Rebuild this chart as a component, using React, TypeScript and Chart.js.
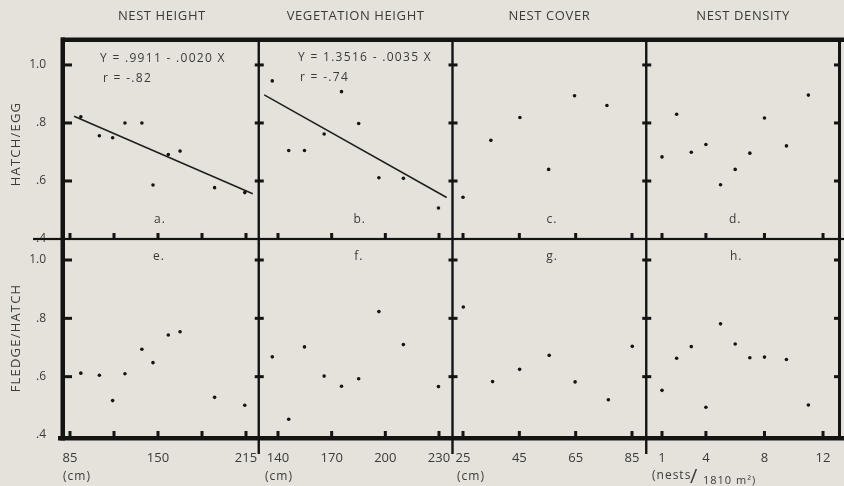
import React, { useEffect, useRef } from 'react';
import { Chart, registerables } from 'chart.js';

Chart.register(...registerables);

// ---- data ----
const nestHeight = [93, 106.7, 116.5, 125.6, 138.1, 146.3, 157.6, 166.3, 191.8, 214.1];
const hatchEggA = [0.821, 0.756, 0.749, 0.8, 0.8, 0.586, 0.691, 0.703, 0.577, 0.56];
const fledgeHatchE = [0.612, 0.605, 0.518, 0.61, 0.694, 0.648, 0.743, 0.754, 0.529, 0.502];

const vegHeight = [136.8, 146.0, 154.8, 165.8, 175.5, 185.1, 196.4, 210.1, 229.7];
const hatchEggB = [0.945, 0.705, 0.705, 0.762, 0.908, 0.798, 0.611, 0.609, 0.507];
const fledgeHatchF = [0.668, 0.454, 0.702, 0.602, 0.567, 0.593, 0.823, 0.71, 0.566];

const nestCoverC = [25.0, 34.9, 45.2, 55.4, 64.6, 76.1];
const hatchEggC = [0.544, 0.74, 0.819, 0.64, 0.894, 0.86];
const nestCoverG = [25.1, 35.5, 45.1, 55.6, 64.8, 76.6, 85.1];
const fledgeHatchG = [0.839, 0.583, 0.625, 0.673, 0.582, 0.521, 0.704];

const nestDensity = [1, 2, 3, 4, 5, 6, 7, 8, 9.5, 11];
const hatchEggD = [0.683, 0.83, 0.699, 0.726, 0.587, 0.64, 0.696, 0.817, 0.721, 0.896];
const fledgeHatchH = [0.553, 0.663, 0.703, 0.495, 0.781, 0.712, 0.665, 0.667, 0.659, 0.503];

// regression line end points (as drawn)
const fitAX = [88, 220];
const fitAY = [0.823, 0.556];
const fitBX = [132.3, 234.3];
const fitBY = [0.897, 0.543];

// ---- ticks / labels ----
const yTickValues = [0.4, 0.6, 0.8, 1.0];
const yTickLabels = ['.4', '.6', '.8', '1.0'];
const xaLabels = [85, 150, 215];
const xaMarks = [85, 117.5, 150, 182.5, 215];
const xbLabels = [140, 170, 200, 230];
const xcLabels = [25, 45, 65, 85];
const xdLabels = [1, 4, 8, 12];

const columnTitles = ['NEST HEIGHT', 'VEGETATION HEIGHT', 'NEST COVER', 'NEST DENSITY'];
const rowTitles = ['HATCH/EGG', 'FLEDGE/HATCH'];
const panelLetters = ['a.', 'b.', 'c.', 'd.', 'e.', 'f.', 'g.', 'h.'];
const eqA = ['Y = .9911 - .0020 X', 'r = -.82'];
const eqB = ['Y = 1.3516 - .0035 X', 'r = -.74'];
const unitCm = '(cm)';

const BG = '#e4e2da';
const INK = '#141414';
const TEXT = '#3a3a3a';
const FONT = "'Open Sans', 'DejaVu Sans', sans-serif";

const pts = (xs: number[], ys: number[]) => xs.map((x, i) => ({ x, y: ys[i] }));

function xScale(min: number, max: number, labels: number[]) {
  return {
    type: 'linear',
    position: 'bottom',
    stack: 'cols',
    stackWeight: 1,
    min,
    max,
    grid: { display: false },
    border: { display: false },
    afterBuildTicks: (s: any) => {
      s.ticks = labels.map((v) => ({ value: v }));
    },
    afterFit: (s: any) => {
      s.height = 48;
      s.paddingLeft = 0;
      s.paddingRight = 0;
    },
    ticks: {
      autoSkip: false,
      maxRotation: 0,
      minRotation: 0,
      padding: 4,
      color: TEXT,
      font: { family: FONT, size: 13 },
      callback: (v: any) => String(v),
    },
  };
}

function yScale(min: number, max: number, weight: number) {
  return {
    type: 'linear',
    position: 'left',
    stack: 'rows',
    stackWeight: 1,
    weight,
    min,
    max,
    grid: { display: false },
    border: { display: false },
    afterBuildTicks: (s: any) => {
      s.ticks = yTickValues.map((v) => ({ value: v }));
    },
    afterFit: (s: any) => {
      s.width = 65;
      s.paddingTop = 0;
      s.paddingBottom = 0;
    },
    ticks: {
      padding: 11,
      color: TEXT,
      font: { family: FONT, size: 12 },
      callback: (v: any) => {
        const i = yTickValues.findIndex((t) => Math.abs(t - v) < 1e-6);
        return i >= 0 ? yTickLabels[i] : '';
      },
    },
  };
}

const framePlugin = {
  id: 'frame',
  beforeDraw(chart: any) {
    const { ctx, width, height } = chart;
    ctx.save();
    ctx.fillStyle = BG;
    ctx.fillRect(0, 0, width, height);
    ctx.restore();
  },
  afterDraw(chart: any) {
    const ctx = chart.ctx;
    const ca = chart.chartArea;
    const W = chart.width;
    const cols = ['xa', 'xb', 'xc', 'xd'].map((id) => chart.scales[id]);
    const rows = [chart.scales.yTop, chart.scales.yBot];
    const mid = rows[0].bottom;
    const marks = [xaMarks, xbLabels, xcLabels, xdLabels];

    ctx.save();
    ctx.fillStyle = INK;
    // outer frame
    ctx.fillRect(ca.left - 4, ca.top - 2.5, W - ca.left + 4, 4.5);
    ctx.fillRect(ca.left - 4.5, ca.top - 2.5, 4.5, ca.bottom - ca.top + 5);
    ctx.fillRect(ca.left - 7, ca.bottom - 2, W - ca.left + 7, 4.5);
    ctx.fillRect(ca.right - 2, ca.top - 2, 3, ca.bottom - ca.top + 4);
    // middle horizontal divider
    ctx.fillRect(33, mid - 1.1, W - 33, 2.2);
    // vertical dividers
    for (let i = 1; i < 4; i++) {
      const x = cols[i].left;
      ctx.fillRect(x - 1.2, ca.top - 2, 2.4, ca.bottom - ca.top + 18);
    }
    // y tick marks
    rows.forEach((ys) => {
      yTickValues.forEach((v) => {
        if (v < 0.5) return;
        const y = ys.getPixelForValue(v);
        ctx.fillRect(ca.left, y - 1.5, 7, 3);
        for (let i = 1; i < 4; i++) ctx.fillRect(cols[i].left - 4, y - 1.5, 9, 3);
        ctx.fillRect(ca.right - 6, y - 1.5, 5, 3);
      });
    });
    // x tick marks
    cols.forEach((xs, i) => {
      marks[i].forEach((v) => {
        const x = xs.getPixelForValue(v);
        [mid - 1, ca.bottom - 2].forEach((by) => ctx.fillRect(x - 1.5, by - 5, 3, 5));
      });
    });

    // texts
    ctx.fillStyle = TEXT;
    ctx.textBaseline = 'middle';
    ctx.textAlign = 'center';
    ctx.font = `13px ${FONT}`;
    ctx.letterSpacing = '0.6px';
    cols.forEach((xs, i) => ctx.fillText(columnTitles[i], (xs.left + xs.right) / 2, 16));

    ctx.letterSpacing = '1.2px';
    const rowCenters = [144, 338];
    rowTitles.forEach((t, i) => {
      ctx.save();
      ctx.translate(16, rowCenters[i]);
      ctx.rotate(-Math.PI / 2);
      ctx.fillText(t, 0, 0);
      ctx.restore();
    });

    // panel letters
    ctx.letterSpacing = '1px';
    ctx.font = `12px ${FONT}`;
    const letterDx = [95, 101, 99.5, 89, 94, 100, 99.5, 90];
    panelLetters.forEach((t, k) => {
      const c = cols[k % 4];
      const y = k < 4 ? mid - 19 : mid + 18;
      ctx.fillText(t, c.left + letterDx[k], y);
    });

    // equations
    ctx.textAlign = 'left';
    ctx.font = `12px ${FONT}`;
    ctx.letterSpacing = '1.3px';
    ctx.fillText(eqA[0], 100, 59);
    ctx.fillText(eqA[1], 103, 79);
    ctx.fillText(eqB[0], 298, 58);
    ctx.fillText(eqB[1], 300, 78);

    // units
    ctx.letterSpacing = '1px';
    ctx.font = `12px ${FONT}`;
    ctx.fillText(unitCm, 63, 477);
    ctx.fillText(unitCm, 265, 477);
    ctx.fillText(unitCm, 457, 477);
    ctx.fillText('(nests', 652, 476);
    ctx.font = `20px ${FONT}`;
    ctx.letterSpacing = '0px';
    ctx.fillText('/', 690, 477);
    ctx.font = `11px ${FONT}`;
    ctx.letterSpacing = '1px';
    ctx.fillText('1810 m²)', 703, 481);
    ctx.restore();
  },
};

export default function App() {
  const ref = useRef<HTMLCanvasElement | null>(null);

  useEffect(() => {
    document.body.style.margin = '0';
    document.body.style.background = BG;
    const canvas = ref.current;
    if (!canvas) return;

    const dot = { pointRadius: 1.8, pointBackgroundColor: INK, pointBorderWidth: 0, showLine: false };
    const fit = { pointRadius: 0, showLine: true, borderColor: '#1e1e1e', borderWidth: 1.5, fill: false };

    const chart = new Chart(canvas, {
      type: 'scatter',
      data: {
        datasets: [
          { ...dot, data: pts(nestHeight, hatchEggA), xAxisID: 'xa', yAxisID: 'yTop' },
          { ...fit, data: pts(fitAX, fitAY), xAxisID: 'xa', yAxisID: 'yTop' },
          { ...dot, data: pts(vegHeight, hatchEggB), xAxisID: 'xb', yAxisID: 'yTop' },
          { ...fit, data: pts(fitBX, fitBY), xAxisID: 'xb', yAxisID: 'yTop' },
          { ...dot, data: pts(nestCoverC, hatchEggC), xAxisID: 'xc', yAxisID: 'yTop' },
          { ...dot, data: pts(nestDensity, hatchEggD), xAxisID: 'xd', yAxisID: 'yTop' },
          { ...dot, data: pts(nestHeight, fledgeHatchE), xAxisID: 'xa', yAxisID: 'yBot' },
          { ...dot, data: pts(vegHeight, fledgeHatchF), xAxisID: 'xb', yAxisID: 'yBot' },
          { ...dot, data: pts(nestCoverG, fledgeHatchG), xAxisID: 'xc', yAxisID: 'yBot' },
          { ...dot, data: pts(nestDensity, fledgeHatchH), xAxisID: 'xd', yAxisID: 'yBot' },
        ] as any,
      },
      options: {
        animation: false,
        responsive: false,
        devicePixelRatio: 1,
        events: [],
        layout: { padding: { top: 40, right: 4, left: 0, bottom: 0 } },
        plugins: { legend: { display: false }, tooltip: { enabled: false }, title: { display: false } },
        scales: {
          xa: xScale(81.31, 224.42, xaLabels),
          xb: xScale(129.24, 237.55, xbLabels),
          xc: xScale(21.27, 90.06, xcLabels),
          xd: xScale(-0.076, 13.16, xdLabels),
          yBot: yScale(0.3897, 1.072, 0),
          yTop: yScale(0.4, 1.086, 1),
        } as any,
      },
      plugins: [framePlugin],
    });
    return () => chart.destroy();
  }, []);

  return (
    <div style={{ width: 844, height: 486, background: BG }}>
      <canvas ref={ref} width={844} height={486} style={{ display: 'block' }} />
    </div>
  );
}
